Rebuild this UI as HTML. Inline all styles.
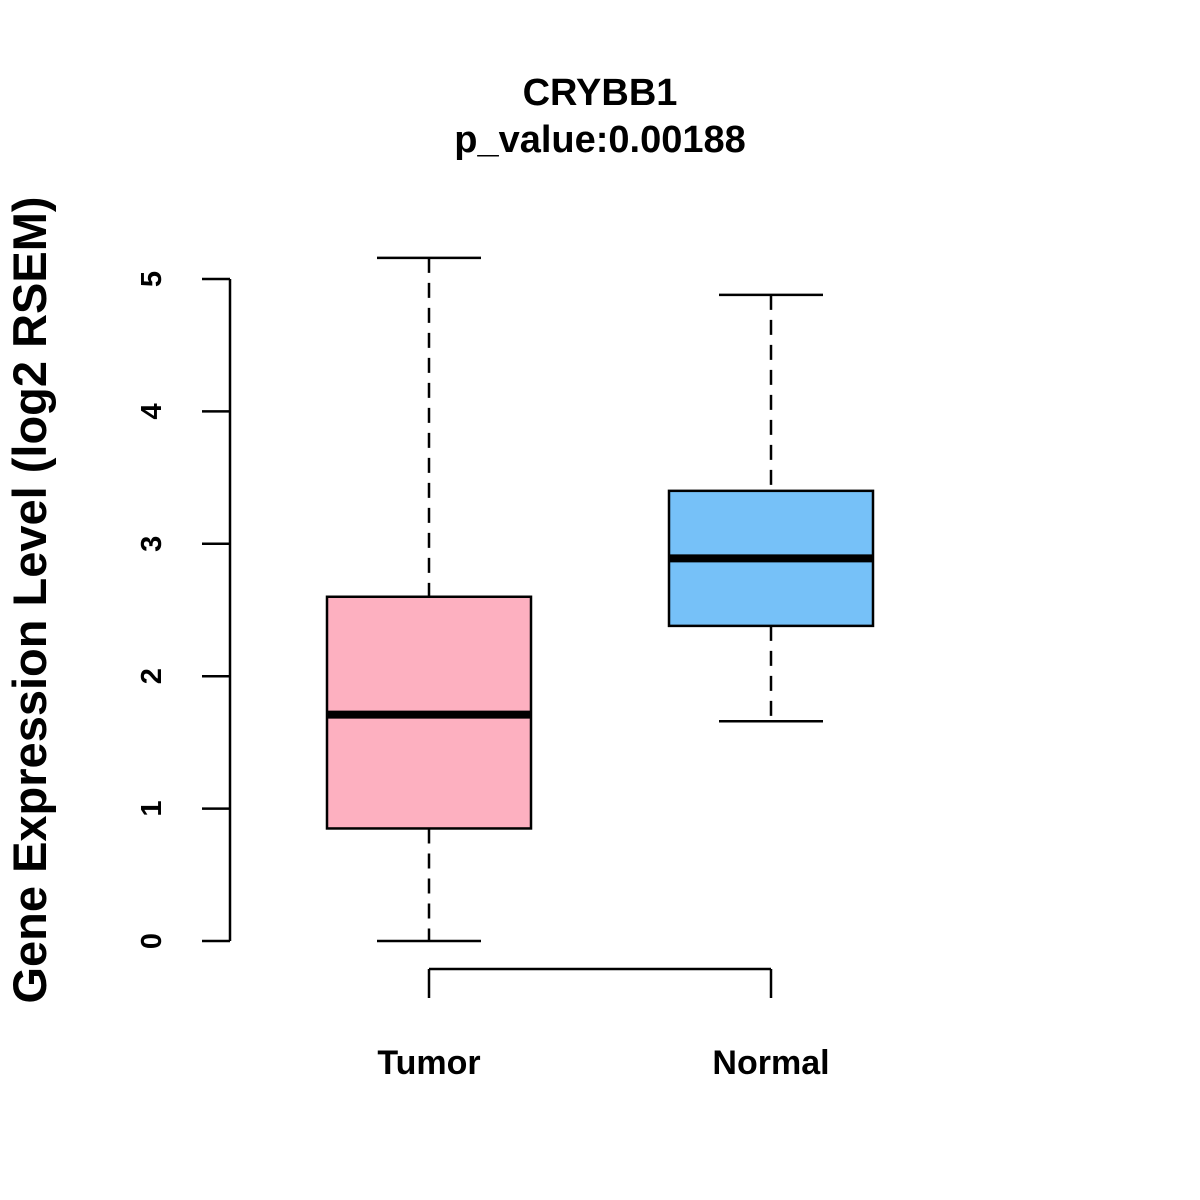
<!DOCTYPE html>
<html><head><meta charset="utf-8"><style>body{margin:0;background:#fff}svg{display:block;font-family:"Liberation Sans",Arial,sans-serif;font-weight:bold}</style></head>
<body>
<svg id="c" width="1200" height="1200">
<text x="600" y="105" text-anchor="middle" font-size="38">CRYBB1</text>
<text x="600" y="152" text-anchor="middle" font-size="38">p_value:0.00188</text>
<text transform="translate(46,600) rotate(-90)" text-anchor="middle" font-size="47">Gene Expression Level (log2 RSEM)</text>
<g id="axes"></g><g id="boxes"></g>
</svg>
<script>
const categories=["Tumor","Normal"];
const whiskerLow=[0,1.66];
const q1=[0.85,2.38];
const medians=[1.71,2.89];
const q3=[2.6,3.4];
const whiskerHigh=[5.16,4.88];
const yTicks=[0,1,2,3,4,5];
const colors=["#FDB0C0","#76C1F8"];
const NS="http://www.w3.org/2000/svg";
const y=v=>941-v*132.4;
const x=i=>429+i*342;
function mk(p,t,a){const e=document.createElementNS(NS,t);for(const k in a)e.setAttribute(k,a[k]);p.appendChild(e);return e;}
const ax=document.getElementById('axes'),bx=document.getElementById('boxes');
let l=mk(ax,'line',{x1:230,x2:230,y1:y(yTicks[yTicks.length-1]),y2:y(yTicks[0]),stroke:'#000','stroke-width':2.5});


yTicks.forEach(t=>{
 let k=mk(ax,'line',{x1:202,x2:230,y1:y(t),y2:y(t),stroke:'#000','stroke-width':2.5});
 
 
 let tx=mk(ax,'text',{transform:`translate(161,${y(t)}) rotate(-90)`,'text-anchor':'middle','font-size':29});
 tx.textContent=t;
 
 
});
let xl=mk(ax,'line',{x1:x(0),x2:x(1),y1:969,y2:969,stroke:'#000','stroke-width':2.5});


categories.forEach((c,i)=>{
 let k=mk(ax,'line',{x1:x(i),x2:x(i),y1:969,y2:998,stroke:'#000','stroke-width':2.5});
 
 
 let tx=mk(ax,'text',{x:x(i),y:1074,'text-anchor':'middle','font-size':34});
 tx.textContent=c;
 
 
 const g=mk(bx,'g',{});
 
 
 const cx=x(i),s={stroke:'#000','stroke-width':2.5};
 mk(g,'line',Object.assign({x1:cx,x2:cx,y1:y(whiskerHigh[i]),y2:y(q3[i]),'stroke-dasharray':'15,10'},s));
 mk(g,'line',Object.assign({x1:cx,x2:cx,y1:y(q1[i]),y2:y(whiskerLow[i]),'stroke-dasharray':'15,10'},s));
 mk(g,'line',Object.assign({x1:cx-52,x2:cx+52,y1:y(whiskerHigh[i]),y2:y(whiskerHigh[i])},s));
 mk(g,'line',Object.assign({x1:cx-52,x2:cx+52,y1:y(whiskerLow[i]),y2:y(whiskerLow[i])},s));
 mk(g,'rect',Object.assign({x:cx-102,width:204,y:y(q3[i]),height:y(q1[i])-y(q3[i]),fill:colors[i]},s));
 mk(g,'line',{x1:cx-102,x2:cx+102,y1:y(medians[i]),y2:y(medians[i]),stroke:'#000','stroke-width':8});
});
</script>
</body></html>
